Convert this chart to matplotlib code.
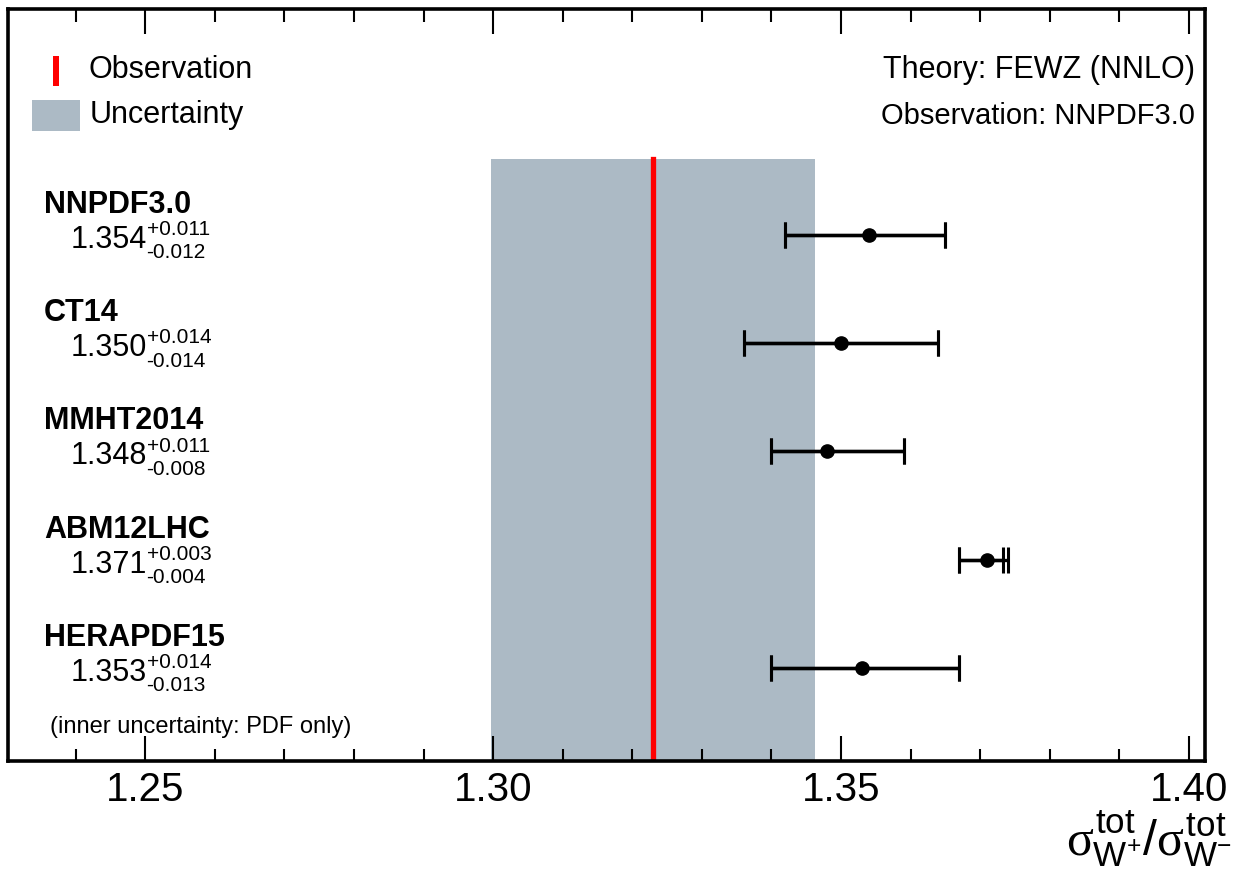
import matplotlib
matplotlib.use('Agg')
import matplotlib.pyplot as plt
from matplotlib.patches import Rectangle
from matplotlib.ticker import MultipleLocator, FormatStrFormatter

plt.rcParams['font.family'] = ['Liberation Sans', 'DejaVu Sans']
plt.rcParams['mathtext.fontset'] = 'custom'
plt.rcParams['mathtext.rm'] = 'Liberation Sans'
plt.rcParams['mathtext.it'] = 'Liberation Serif'
plt.rcParams['mathtext.bf'] = 'Liberation Sans:bold'

# PDF sets, central value and uncertainties
pdf_names = ['NNPDF3.0', 'CT14', 'MMHT2014', 'ABM12LHC', 'HERAPDF15']
central = [1.354, 1.350, 1.348, 1.371, 1.353]
err_up = [0.011, 0.014, 0.011, 0.003, 0.014]
err_down = [0.012, 0.014, 0.008, 0.004, 0.013]
# inner (PDF only) uncertainty, read from the inner caps
pdf_up = [0.011, 0.014, 0.011, 0.0023, 0.014]
pdf_down = [0.012, 0.014, 0.008, 0.004, 0.013]

# observation and its band
obs_value = 1.323
obs_low = 1.2997
obs_high = 1.3463

fig = plt.figure(figsize=(12.34, 8.72), dpi=100)
ax = fig.add_axes([0.0061, 0.1273, 0.9708, 0.8624])

n = len(pdf_names)
ypos = [n - i for i in range(n)]

ax.set_xlim(1.2302, 1.4024)
ax.set_ylim(0.141, 7.087)
band_top = 5.70

ax.fill_between([obs_low, obs_high], 0.141, band_top, color='#acbac5', lw=0, zorder=1)
ax.plot([obs_value, obs_value], [0.141, band_top], color='#ff0000', lw=3.8, zorder=2)

ax.errorbar(central, ypos, xerr=[pdf_down, pdf_up], fmt='none',
            ecolor='black', elinewidth=2.4, capsize=9.7, capthick=2.2, zorder=3)
ax.errorbar(central, ypos, xerr=[err_down, err_up], fmt='o', color='black',
            markersize=9.5, elinewidth=2.4, capsize=9.7, capthick=2.2, zorder=4)

# labels on the left
xt = ax.get_yaxis_transform()
for name, c, up, dn, y in zip(pdf_names, central, err_up, err_down, ypos):
    ax.text(0.0305, y + 0.277, name, transform=xt, fontsize=22, fontweight='bold',
            ha='left', va='center')
    ax.text(0.053, y - 0.046, '%.3f' % c, transform=xt, fontsize=22,
            ha='left', va='center')
    ax.text(0.1165, y + 0.05, '+%.3f' % up, transform=xt, fontsize=15,
            ha='left', va='center')
    ax.text(0.1160, y - 0.165, '-%.3f' % dn, transform=xt, fontsize=15,
            ha='left', va='center')

ax.text(0.0355, 0.0452, '(inner uncertainty: PDF only)', transform=ax.transAxes,
        fontsize=17, ha='left', va='center')

# legend
ax.add_patch(Rectangle((0.038, 0.8976), 0.005, 0.04, transform=ax.transAxes,
                       color='#ff0000', lw=0))
ax.add_patch(Rectangle((0.0204, 0.8378), 0.0401, 0.0412, transform=ax.transAxes,
                       color='#acbac5', lw=0))
ax.text(0.0672, 0.9189, 'Observation', transform=ax.transAxes, fontsize=22,
        ha='left', va='center')
ax.text(0.0689, 0.859, 'Uncertainty', transform=ax.transAxes, fontsize=22,
        ha='left', va='center')
ax.text(0.9912, 0.9189, 'Theory: FEWZ (NNLO)', transform=ax.transAxes, fontsize=22,
        ha='right', va='center')
ax.text(0.9912, 0.8577, 'Observation: NNPDF3.0', transform=ax.transAxes, fontsize=21,
        ha='right', va='center')

# axes style
for s in ax.spines.values():
    s.set_linewidth(2.6)
ax.xaxis.set_major_locator(MultipleLocator(0.05))
ax.xaxis.set_minor_locator(MultipleLocator(0.01))
ax.xaxis.set_major_formatter(FormatStrFormatter('%.2f'))
ax.tick_params(axis='x', which='both', direction='in', top=True, bottom=True)
ax.tick_params(axis='x', which='major', length=18, width=1.5, labelsize=29, pad=7)
ax.tick_params(axis='x', which='minor', length=9, width=1.5)
ax.set_yticks([])

fig.text(0.9985, 0.004, r'$\sigma^{\rm tot}_{\rm W^{+}}/\sigma^{\rm tot}_{\rm W^{-}}$',
         fontsize=36, ha='right', va='bottom')

plt.savefig('out.png', dpi=100)
